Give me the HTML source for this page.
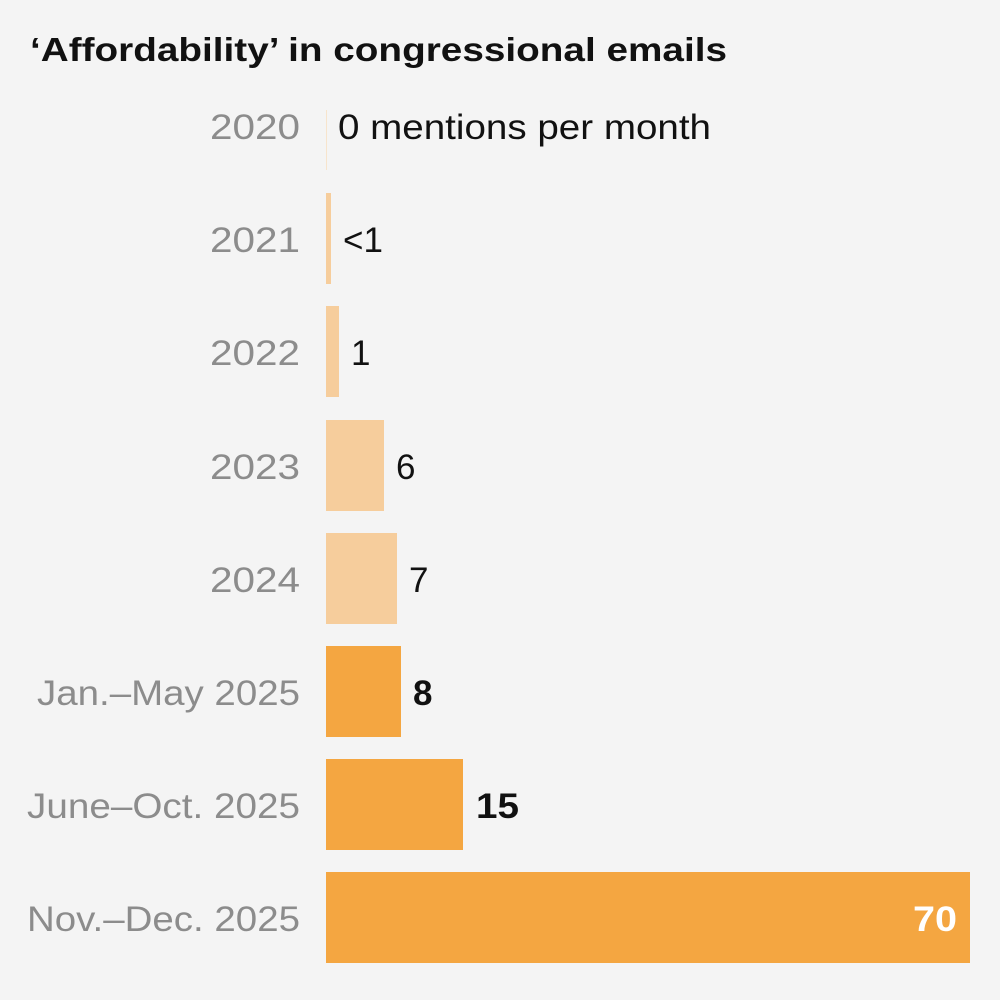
<!DOCTYPE html>
<html><head><meta charset="utf-8"><style>
body{margin:0;background:#f4f4f4;}
svg{display:block}
text{font-family:"Liberation Sans",sans-serif;}
.l{fill:#8c8c8c;font-size:35px;text-anchor:end}
.v{fill:#111;font-size:35px}
.b{font-weight:bold}
</style></head><body>
<svg width="1000" height="1000" xmlns="http://www.w3.org/2000/svg">
<rect width="1000" height="1000" fill="#f4f4f4"/>
<text x="30" y="61" font-size="33" font-weight="bold" fill="#111" textLength="697" lengthAdjust="spacingAndGlyphs">‘Affordability’ in congressional emails</text>
<rect x="326" y="110" width="1" height="60" fill="#f7e4cc"/>
<text class="l" x="300" y="139" textLength="90" lengthAdjust="spacingAndGlyphs">2020</text>
<text class="v" x="338" y="139" textLength="373" lengthAdjust="spacingAndGlyphs">0 mentions per month</text>
<rect x="326" y="193" width="5" height="91" fill="#f6cd9c"/>
<text class="l" x="300" y="252" textLength="90" lengthAdjust="spacingAndGlyphs">2021</text>
<text class="v" x="343" y="252">&lt;1</text>
<rect x="326" y="306" width="13" height="91" fill="#f6cd9c"/>
<text class="l" x="300" y="365" textLength="90" lengthAdjust="spacingAndGlyphs">2022</text>
<text class="v" x="351" y="365">1</text>
<rect x="326" y="420" width="58" height="91" fill="#f6cd9c"/>
<text class="l" x="300" y="479" textLength="90" lengthAdjust="spacingAndGlyphs">2023</text>
<text class="v" x="396" y="479">6</text>
<rect x="326" y="533" width="71" height="91" fill="#f6cd9c"/>
<text class="l" x="300" y="592" textLength="90" lengthAdjust="spacingAndGlyphs">2024</text>
<text class="v" x="409" y="592">7</text>
<rect x="326" y="646" width="75" height="91" fill="#f4a641"/>
<text class="l" x="300" y="705" textLength="263" lengthAdjust="spacingAndGlyphs">Jan.–May 2025</text>
<text class="v b" x="413" y="705">8</text>
<rect x="326" y="759" width="137" height="91" fill="#f4a641"/>
<text class="l" x="300" y="818" textLength="273" lengthAdjust="spacingAndGlyphs">June–Oct. 2025</text>
<text class="v b" x="476" y="818" textLength="43" lengthAdjust="spacingAndGlyphs">15</text>
<rect x="326" y="872" width="644" height="91" fill="#f4a641"/>
<text class="l" x="300" y="931" textLength="273" lengthAdjust="spacingAndGlyphs">Nov.–Dec. 2025</text>
<text class="v b" x="957" y="931" text-anchor="end" style="fill:#fff" textLength="44" lengthAdjust="spacingAndGlyphs">70</text>
</svg>
</body></html>
